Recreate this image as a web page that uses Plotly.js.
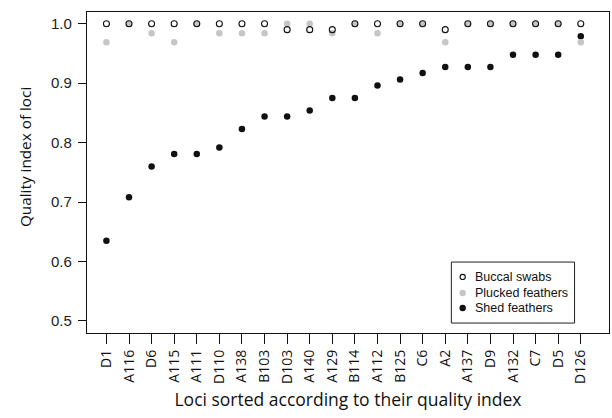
<!DOCTYPE html>
<html>
<head>
<meta charset="utf-8">
<script src="https://cdn.plot.ly/plotly-3.0.1.min.js"></script>
<style>html,body{margin:0;padding:0;background:#fff;}#chart{width:612px;height:418px;}</style>
</head>
<body>
<div id="chart"></div>
<script>
const loci = ["D1","A116","D6","A115","A111","D110","A138","B103","D103","A140","A129","B114","A112","B125","C6","A2","A137","D9","A132","C7","D5","D126"];
const buccal = [1,1,1,1,1,1,1,1,0.99,0.99,0.99,1,1,1,1,0.99,1,1,1,1,1,1];
const plucked = [0.969,1,0.984,0.969,1,0.984,0.984,0.984,1,1,0.984,1,0.984,1,1,0.969,1,1,1,1,1,0.969];
const shed = [0.635,0.708,0.760,0.781,0.781,0.792,0.823,0.844,0.844,0.854,0.875,0.875,0.896,0.906,0.917,0.927,0.927,0.927,0.948,0.948,0.948,0.979];
const yTicks = [0.5,0.6,0.7,0.8,0.9,1.0];
const yTickText = ["0.5","0.6","0.7","0.8","0.9","1.0"];
const legendNames = ["Buccal swabs","Plucked feathers","Shed feathers"];
const yTitle = "Quality index of loci";
const xTitle = "Loci sorted according to their quality index";

const GRAY = "#c6c6c6";
const traces = [
  {x: loci, y: shed, name: legendNames[2], type: "scatter", mode: "markers",
   marker: {symbol: "circle", size: 6.5, color: "#111111", line: {width: 0}}},
  {x: loci, y: plucked, name: legendNames[1], type: "scatter", mode: "markers",
   marker: {symbol: "circle", size: 6.5, color: GRAY, line: {width: 0}}},
  {x: loci, y: buccal, name: legendNames[0], type: "scatter", mode: "markers",
   marker: {symbol: "circle-open", size: 6, color: "#111111", line: {width: 1.1, color: "#111111"}}}
];

// custom legend (box + symbols + labels) in paper coordinates
const L = {x0: 0.698, x1: 0.934, y0: 0.031, y1: 0.221};
const rows = [0.1746, 0.1247, 0.078];
const symX = 0.7197, txtX = 0.7427;
const shapes = [
  {type: "rect", xref: "paper", yref: "paper", x0: L.x0, x1: L.x1, y0: L.y0, y1: L.y1,
   line: {color: "#222", width: 1}, fillcolor: "rgba(0,0,0,0)"}
];
const symStyles = [
  {fill: "#ffffff", line: "#111111", lw: 1.1, r: 2.6},
  {fill: GRAY, line: GRAY, lw: 0, r: 3.2},
  {fill: "#111111", line: "#111111", lw: 0, r: 3.2}
];
rows.forEach((ry, i) => {
  const s = symStyles[i];
  shapes.push({type: "circle", xref: "paper", yref: "paper", xsizemode: "pixel", ysizemode: "pixel",
    xanchor: symX, yanchor: ry, x0: -s.r, x1: s.r, y0: -s.r, y1: s.r,
    fillcolor: s.fill, line: {color: s.line, width: s.lw}});
});
const annotations = rows.map((ry, i) => ({
  xref: "paper", yref: "paper", x: txtX, y: ry, xanchor: "left", yanchor: "middle",
  text: legendNames[i], showarrow: false, xshift: -2,
  font: {family: "Liberation Sans, Arial, sans-serif", size: 12.5, color: "#111"}
}));
// y-axis title (placed as annotation to match its off-centre position)
annotations.push({
  xref: "paper", yref: "paper", x: -0.1188, y: 0.548, xanchor: "center", yanchor: "middle",
  text: yTitle, textangle: -90, showarrow: false,
  font: {family: "Open Sans, sans-serif", size: 15.3, color: "#111"}
});

const layout = {
  width: 612, height: 418,
  margin: {l: 87, r: 3, t: 12, b: 85},
  paper_bgcolor: "#fff", plot_bgcolor: "#fff",
  showlegend: false,
  xaxis: {
    type: "category", range: [-0.86, 22.25],
    showgrid: false, zeroline: false,
    showline: true, mirror: true, linecolor: "#111", linewidth: 1.2,
    ticks: "outside", ticklen: 10, tickwidth: 1, tickcolor: "#111",
    tickangle: -90,
    tickfont: {family: "Open Sans, sans-serif", size: 14, color: "#111"},
    title: {text: xTitle, standoff: 10,
            font: {family: "Open Sans, sans-serif", size: 17.5, color: "#111"}}
  },
  yaxis: {
    range: [0.4798, 1.0197],
    tickvals: yTicks, ticktext: yTickText,
    showgrid: false, zeroline: false,
    showline: true, mirror: true, linecolor: "#111", linewidth: 1.2,
    ticks: "outside", ticklen: 8, tickwidth: 1, tickcolor: "#111",
    ticklabelstandoff: 3,
    tickfont: {family: "Liberation Sans, Arial, sans-serif", size: 15, color: "#222"}
  },
  shapes: shapes,
  annotations: annotations
};

Plotly.newPlot("chart", traces, layout, {staticPlot: true, displayModeBar: false});
</script>
</body>
</html>
